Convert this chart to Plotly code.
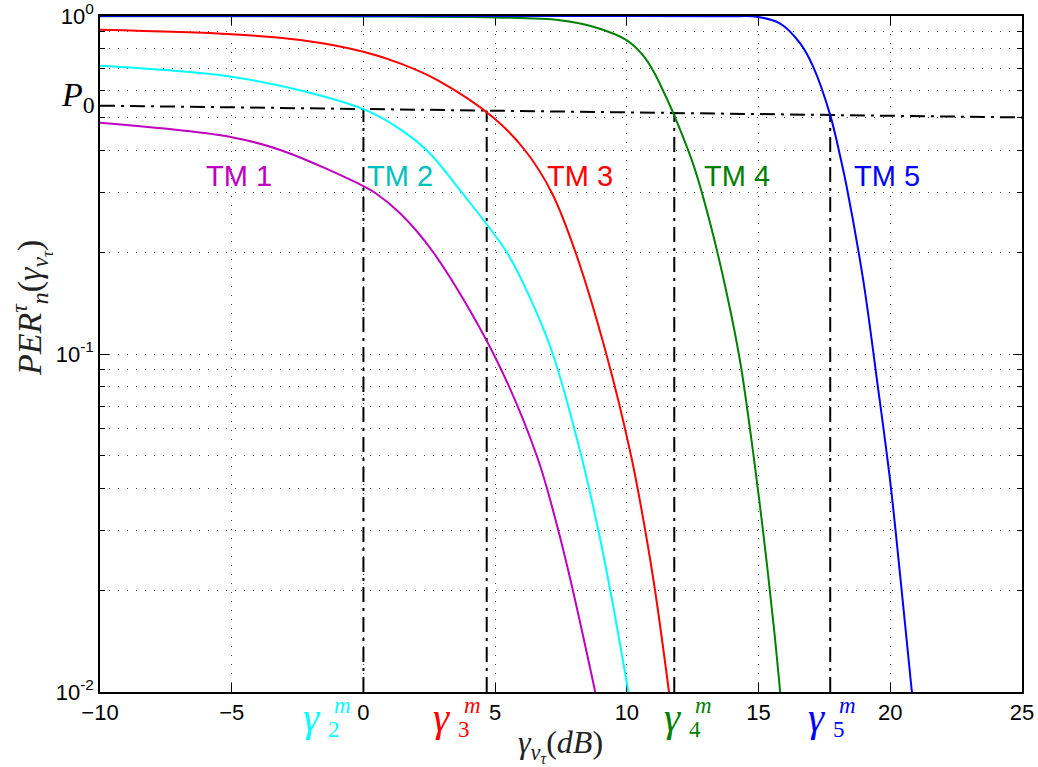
import plotly.graph_objects as go
import numpy as np

# ---------------- data ----------------
tm_names = ["TM 1", "TM 2", "TM 3", "TM 4", "TM 5"]
line_colors = ["#BF00BF", "#00FFFF", "#FF0000", "#008000", "#0000FF"]
text_colors = ["#BF00BF", "#00BFBF", "#FF0000", "#008000", "#0000FF"]

tm1_x = [-10, -5, -3.1, 0, 0.44, 1.39, 2.65, 4.94, 6.58, 7.40, 7.95, 8.80]
tm1_y = [0.483, 0.438, 0.40, 0.314, 0.30, 0.261, 0.20, 0.10, 0.05, 0.03, 0.02, 0.01]

tm2_x = [-10, -7.5, -5, -2.5, 0, 1.2, 2.41, 3.74, 5.44, 6.3, 7.19, 8.27, 8.92, 9.37, 10.06]
tm2_y = [0.713, 0.692, 0.661, 0.605, 0.530, 0.473, 0.40, 0.30, 0.20, 0.148, 0.10, 0.05, 0.03, 0.02, 0.01]

tm3_x = [-10, -5, -2.4, 0, 1.39, 2.79, 4.94, 6.14, 7.15, 8.05, 9.22, 10.16, 10.70, 11.07, 11.60]
tm3_y = [0.910, 0.883, 0.849, 0.784, 0.724, 0.647, 0.50, 0.40, 0.30, 0.20, 0.10, 0.05, 0.03, 0.02, 0.01]

tm4_x = [-10, 0, 5, 7.46, 8.73, 10.0, 10.63, 11.01, 11.39, 11.77, 12.53, 13.16, 13.8, 14.3, 14.81, 15.19, 15.57, 15.82]
tm4_y = [0.999, 0.997, 0.99, 0.972, 0.929, 0.847, 0.762, 0.686, 0.598, 0.514, 0.362, 0.244, 0.150, 0.095, 0.050, 0.029, 0.0158, 0.01]

tm5_x = [-10, 10, 13, 14.0, 14.93, 15.82, 16.58, 17.08, 17.72, 18.1, 18.35, 18.98, 19.49, 20.0, 20.38, 20.82]
tm5_y = [1.0, 0.9995, 0.999, 0.998, 0.995, 0.95, 0.83, 0.706, 0.509, 0.384, 0.311, 0.164, 0.0843, 0.0418, 0.0219, 0.01]

p0_x = [-10, 25]
p0_y = [0.543, 0.501]

gamma_m_x = [0.0, 4.68, 11.8, 17.72]
gamma_m_idx = ["2", "3", "4", "5"]
gamma_m_colors = ["#00FFFF", "#FF0000", "#008000", "#0000FF"]

x_ticks = [-10, -5, 0, 5, 10, 15, 20, 25]
y_ticks = [0.01, 0.1, 1]
y_ticktext = ["10<sup>-2</sup>", "10<sup>-1</sup>", "10<sup>0</sup>"]
y_minor = [d * m for m in (0.01, 0.1) for d in range(2, 10)]

# ---------------- figure ----------------
L, R, T, B = 100, 16, 16, 75
W, H = 1038, 767
PW, PH = W - L - R, H - T - B


def pxx(xp):
    return (xp - L) / PW


def pyy(yp):
    return (T + PH - yp) / PH


fig = go.Figure()

DASHDOT = "15px,6px,3px,6px"

# P0 horizontal line
fig.add_trace(go.Scatter(x=p0_x, y=p0_y, mode="lines",
                         line=dict(color="black", width=2, dash=DASHDOT),
                         showlegend=False, hoverinfo="skip"))

# vertical threshold lines, top at the P0 line
p0_log = np.log10(p0_y)
for gx in gamma_m_x:
    ytop = 10 ** np.interp(gx, p0_x, p0_log)
    fig.add_trace(go.Scatter(x=[gx, gx], y=[0.01, ytop], mode="lines",
                             line=dict(color="black", width=2, dash=DASHDOT),
                             showlegend=False, hoverinfo="skip"))

curves = [(tm1_x, tm1_y), (tm2_x, tm2_y), (tm3_x, tm3_y), (tm4_x, tm4_y), (tm5_x, tm5_y)]
for (cx, cy), col, name in zip(curves, line_colors, tm_names):
    fig.add_trace(go.Scatter(x=cx, y=cy, mode="lines", name=name,
                             line=dict(color=col, width=2, shape="spline", smoothing=1.0),
                             showlegend=False))

annotations = []

# TM labels
tm_label_px = [239, 400, 580, 737, 887]
for name, col, xp in zip(tm_names, text_colors, tm_label_px):
    annotations.append(dict(text=name, x=pxx(xp), y=pyy(176), xref="paper", yref="paper",
                            showarrow=False, xanchor="center", yanchor="middle",
                            font=dict(family="Liberation Sans", size=29, color=col)))

# gamma_m labels under the axis
gamma_px = [312, 442, 673, 817]
SERIF = "Liberation Serif"
for gp, idx, col in zip(gamma_px, gamma_m_idx, gamma_m_colors):
    annotations.append(dict(text="<i>γ</i>", x=pxx(gp), y=pyy(717), xref="paper", yref="paper",
                            showarrow=False, xanchor="center", yanchor="middle",
                            font=dict(family=SERIF, size=41, color=col)))
    annotations.append(dict(text="<i>m</i>", x=pxx(gp + 30), y=pyy(705), xref="paper", yref="paper",
                            showarrow=False, xanchor="center", yanchor="middle",
                            font=dict(family=SERIF, size=23, color=col)))
    annotations.append(dict(text=idx, x=pxx(gp + 22), y=pyy(729), xref="paper", yref="paper",
                            showarrow=False, xanchor="center", yanchor="middle",
                            font=dict(family=SERIF, size=23, color=col)))

# P0 label
annotations.append(dict(text="<i>P</i><sub>0</sub>", x=pxx(78), y=pyy(97), xref="paper", yref="paper",
                        showarrow=False, xanchor="center", yanchor="middle",
                        font=dict(family=SERIF, size=34, color="black")))

# x axis title
annotations.append(dict(text="<i>γ</i><sub><i>ν</i><sub><i>τ</i></sub></sub>(<i>dB</i>)",
                        x=pxx(560), y=pyy(745), xref="paper", yref="paper",
                        showarrow=False, xanchor="center", yanchor="middle",
                        font=dict(family=SERIF, size=32, color="#222")))

# y axis title
annotations.append(dict(text="<i>PER</i><sup><i>τ</i></sup><sub><i>n</i></sub>(<i>γ</i><sub><i>ν</i><sub><i>τ</i></sub></sub>)",
                        x=pxx(31), y=pyy(308), xref="paper", yref="paper", textangle=-90,
                        showarrow=False, xanchor="center", yanchor="middle",
                        font=dict(family=SERIF, size=34, color="#222")))

GRID = dict(showgrid=True, gridcolor="#555555", gridwidth=1, griddash="1px,8px")

fig.update_layout(
    width=W, height=H,
    margin=dict(l=L, r=R, t=T, b=B, pad=0),
    paper_bgcolor="white", plot_bgcolor="white",
    annotations=annotations,
    xaxis=dict(range=[-10, 25], tickvals=x_ticks, ticks="inside", ticklen=9, tickwidth=1,
               tickcolor="black", showline=True, linecolor="black", linewidth=1.5,
               mirror="allticks", zeroline=False, layer="below traces", automargin=False,
               tickfont=dict(family="Liberation Sans", size=22, color="black"),
               **GRID),
    yaxis=dict(type="log", range=[-2, 0], tickvals=y_ticks, ticktext=y_ticktext,
               ticks="inside", ticklen=9, tickwidth=1, tickcolor="black",
               showline=True, linecolor="black", linewidth=1.5, mirror="allticks",
               zeroline=False, layer="below traces", automargin=False,
               tickfont=dict(family="Liberation Sans", size=22, color="black"),
               minor=dict(tickvals=y_minor, ticks="inside", ticklen=5, tickcolor="black",
                          showgrid=True, gridcolor="#555555", gridwidth=1, griddash="1px,8px"),
               **GRID),
)

fig.write_html("out.html", config={"displayModeBar": False},
               post_script="document.body.style.margin='0';document.body.style.overflow='hidden';")
